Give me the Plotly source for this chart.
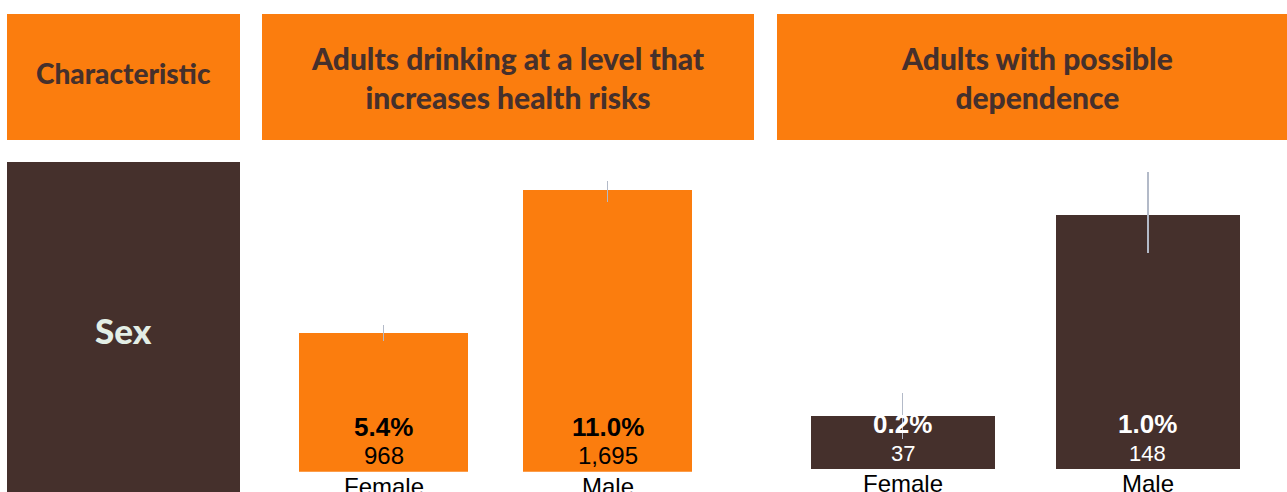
import plotly.graph_objects as go

# ---- data ----
categories = ["Female", "Male"]
risk_pct = [5.4, 11.0]
risk_n = [968, 1695]
risk_err_plus = [0.33, 0.35]
risk_err_minus = [0.30, 0.47]
dep_pct = [0.21, 1.0]
dep_n = [37, 148]
dep_err_plus = [0.09, 0.17]
dep_err_minus = [0.09, 0.15]
headers = ["Characteristic", "Adults drinking at a level that<br>increases health risks",
           "Adults with possible<br>dependence"]
row_label = "Sex"

W, H = 1287, 492
ORANGE = "#FB7D0E"
BROWN = "#45302C"
ERR = "#B3BAC8"


def px(x):
    return x / W


def py(y):
    return 1 - y / H


fig = go.Figure()

fig.add_trace(go.Bar(
    x=categories, y=risk_pct, xaxis="x", yaxis="y",
    marker=dict(color=ORANGE, line=dict(width=0)), width=0.752,
    error_y=dict(type="data", array=risk_err_plus, arrayminus=risk_err_minus,
                 color=ERR, thickness=1.5, width=0),
    hoverinfo="skip"))
fig.add_trace(go.Bar(
    x=categories, y=dep_pct, xaxis="x2", yaxis="y2",
    marker=dict(color=BROWN, line=dict(width=0)), width=0.751,
    error_y=dict(type="data", array=dep_err_plus, arrayminus=dep_err_minus,
                 color=ERR, thickness=1.5, width=0),
    hoverinfo="skip"))

# axis geometry (pixel positions of panels)
s1 = 25.6    # px per % panel 1
s2 = 254.3   # px per % panel 2
b1, b2 = 471.7, 469.3
top = 160
c1, sp1 = 383.5, 224.0
c2, sp2 = 902.7, 245.1

fig.update_layout(
    width=W, height=H, margin=dict(l=0, r=0, t=0, b=0),
    paper_bgcolor="white", plot_bgcolor="rgba(0,0,0,0)",
    showlegend=False, bargap=0,
    xaxis=dict(domain=[px(262), px(754)], range=[-(c1 - 262) / sp1, (754 - c1) / sp1],
               showticklabels=False, showgrid=False, zeroline=False, showline=False, ticks=""),
    yaxis=dict(domain=[py(b1), py(top)], range=[0, (b1 - top) / s1],
               showticklabels=False, showgrid=False, zeroline=False, showline=False),
    xaxis2=dict(domain=[px(777), 1.0], range=[-(c2 - 777) / sp2, (W - c2) / sp2],
                showticklabels=False, showgrid=False, zeroline=False, showline=False, ticks=""),
    yaxis2=dict(domain=[py(b2), py(top)], range=[0, (b2 - top) / s2],
                showticklabels=False, showgrid=False, zeroline=False, showline=False),
)

shapes = []
# header boxes
for x0, x1 in [(7, 240), (262, 754), (777, 1287)]:
    shapes.append(dict(type="rect", xref="paper", yref="paper", x0=px(x0), x1=px(x1),
                       y0=py(140), y1=py(14), fillcolor=ORANGE, line=dict(width=0), layer="below"))
# row label box
shapes.append(dict(type="rect", xref="paper", yref="paper", x0=px(7), x1=px(240),
                   y0=0, y1=py(162), fillcolor=BROWN, line=dict(width=0), layer="below"))
fig.update_layout(shapes=shapes)

ann = []
hfont = dict(family="Lato", size=28, color=BROWN, weight=900)
hfont2 = dict(family="Lato", size=30, color=BROWN, weight=900)
ann.append(dict(text=headers[0], x=px(123.5), y=py(73), xref="paper", yref="paper",
                showarrow=False, font=hfont, xanchor="center", yanchor="middle"))
ann.append(dict(text=headers[1], x=px(508), y=py(77), xref="paper", yref="paper",
                showarrow=False, font=hfont2, xanchor="center", yanchor="middle"))
ann.append(dict(text=headers[2], x=px(1037), y=py(77), xref="paper", yref="paper",
                showarrow=False, font=hfont2, xanchor="center", yanchor="middle"))
ann.append(dict(text=row_label, x=px(123.5), y=py(330), xref="paper", yref="paper",
                showarrow=False, font=dict(family="Lato", size=35, color="#E3EEE6", weight=900),
                xanchor="center", yanchor="middle"))

for (xr, yr, pct, n, col, nsize) in [("x", "y", risk_pct, risk_n, "black", 24),
                                     ("x2", "y2", dep_pct, dep_n, "white", 22)]:
    for c, p, k in zip(categories, pct, n):
        ann.append(dict(text=f"<b>{p:.1f}%</b>", x=c, y=0, xref=xr, yref=yr, showarrow=False,
                        yanchor="middle", yshift=45,
                        font=dict(family="Liberation Sans", size=26, color=col)))
        ann.append(dict(text=f"{k:,}", x=c, y=0, xref=xr, yref=yr, showarrow=False,
                        yanchor="middle", yshift=16,
                        font=dict(family="Liberation Sans", size=nsize, color=col)))
        ann.append(dict(text=c, x=c, y=0, xref=xr, yref=yr, showarrow=False,
                        yanchor="top", yshift=1,
                        font=dict(family="Liberation Sans", size=24, color="black")))
fig.update_layout(annotations=ann)

fig.write_html("out.html")
